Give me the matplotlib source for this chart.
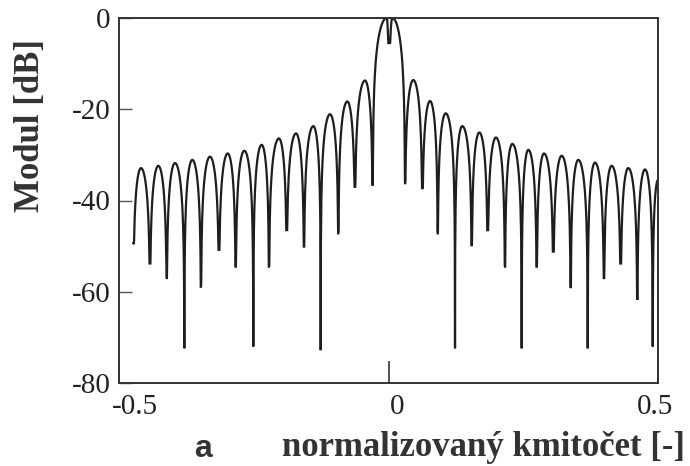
import numpy as np
import matplotlib
matplotlib.use("Agg")
import matplotlib.pyplot as plt
import matplotlib.transforms as mtransforms

# lobe minima (normalised frequency, dB); the first entry is where the trace starts
null_f = [-0.4735, -0.4425, -0.4115, -0.3788, -0.3479, -0.3145, -0.2835, -0.2508,
          -0.2217, -0.1889, -0.1568, -0.1258, -0.0931, -0.0622, -0.0293,
          0.0009,
          0.0306, 0.0627, 0.0913, 0.1234, 0.1544, 0.1840, 0.2161, 0.2471,
          0.2750, 0.3058, 0.3380, 0.3696, 0.3998, 0.4308, 0.4616, 0.4902]
null_db = [-49.4, -53.8, -57.0, -72.4, -58.9, -50.8, -54.5, -72.0,
           -54.5, -46.5, -50.1, -72.8, -47.2, -37.0, -36.6,
           -5.5,
           -36.2, -37.3, -47.2, -72.4, -49.8, -46.5, -54.5, -72.4,
           -54.5, -51.2, -59.2, -72.4, -57.0, -53.8, -61.8, -72.0]

# lobe maxima; the last entry is where the trace ends
peak_f = [-0.4592, -0.4271, -0.3961, -0.3640, -0.3312, -0.2983, -0.2675,
          -0.2353, -0.2032, -0.1716, -0.1395, -0.1085, -0.0764, -0.0436,
          -0.0033, 0.0071,
          0.0460, 0.0770, 0.1061, 0.1369, 0.1685, 0.1994, 0.2297, 0.2594,
          0.2885, 0.3213, 0.3521, 0.3831, 0.4141, 0.4449, 0.4759, 0.5000]
peak_db = [-32.9, -32.4, -31.8, -31.1, -30.4, -29.7, -29.1,
           -27.8, -26.4, -25.3, -23.7, -21.1, -18.3, -13.7,
           0.0, 0.0,
           -13.6, -18.2, -20.9, -23.7, -25.1, -26.2, -27.6, -28.9,
           -29.7, -30.2, -31.1, -31.7, -32.4, -32.9, -33.2, -35.5]

y_ticks = [0, -20, -40, -60, -80]
x_ticks = [-0.5, 0, 0.5]
x_ticklabels = ["-0.5", "0", "0.5"]


def half_lobe(f0, f1, top, floor, rising):
    # sin-shaped flank between a minimum and a maximum, in dB
    u = np.linspace(0, 1, 40)
    s = np.sin(np.pi * 0.5 * u)
    db = np.maximum(top + 20 * np.log10(np.maximum(s, 1e-9)), floor)
    if rising:
        return f0 + (f1 - f0) * u, db
    return (f1 - (f1 - f0) * u)[::-1], db[::-1]


xs, ys = [], []
for i in range(len(peak_f)):
    x, y = half_lobe(null_f[i], peak_f[i], peak_db[i], null_db[i], True)
    xs.append(x); ys.append(y)
    if i + 1 < len(null_f):
        x, y = half_lobe(peak_f[i], null_f[i + 1], peak_db[i], null_db[i + 1], False)
        xs.append(x); ys.append(y)
freq = np.concatenate(xs)
mag = np.concatenate(ys)

serif = ["Liberation Serif", "DejaVu Serif"]

fig = plt.figure(figsize=(6.9, 4.66), dpi=100)
ax = fig.add_axes([119 / 690, 1 - 383 / 466, 539 / 690, 365 / 466])
ax.plot(freq, mag, color="#1e1e1e", lw=1.6, solid_joinstyle="miter")

ax.set_xlim(-0.5, 0.5)
ax.set_ylim(-80, 0)
ax.set_yticks(y_ticks)
ax.set_yticklabels([str(t) for t in y_ticks], family=serif, fontsize=21, color="#222")
ax.set_xticks(x_ticks)
ax.set_xticklabels(x_ticklabels, family=serif, fontsize=21, color="#222")
ax.tick_params(axis="y", direction="in", length=9, width=1.0, color="#555", pad=6)
ax.tick_params(axis="x", direction="in", length=16, width=1.2, color="#333", pad=8)

# nudge the frequency labels a little off their ticks
labels = ax.get_xticklabels()
labels[0].set_horizontalalignment("left")
for lab, dx in zip(labels, [-7, 9, -3]):
    lab.set_transform(lab.get_transform() +
                      mtransforms.ScaledTranslation(dx / 100, 0, fig.dpi_scale_trans))

for sp in ax.spines.values():
    sp.set_color("#333")
    sp.set_linewidth(1.4)

fig.text(30 / 690, 1 - 126 / 466, "Modul [dB]", rotation=90, ha="center", va="center",
         family=serif, fontweight="bold", fontsize=25, color="#333")
fig.text(685 / 690, 1 - 456 / 466, "normalizovaný kmitočet [-]", ha="right", va="baseline",
         family=serif, fontweight="bold", fontsize=25, color="#333")
fig.text(203 / 690, 1 - 457 / 466, "a", ha="center", va="baseline",
         family=["Liberation Sans", "DejaVu Sans"], fontweight="bold", fontsize=23, color="#333")

fig.savefig("out.png", dpi=100)
